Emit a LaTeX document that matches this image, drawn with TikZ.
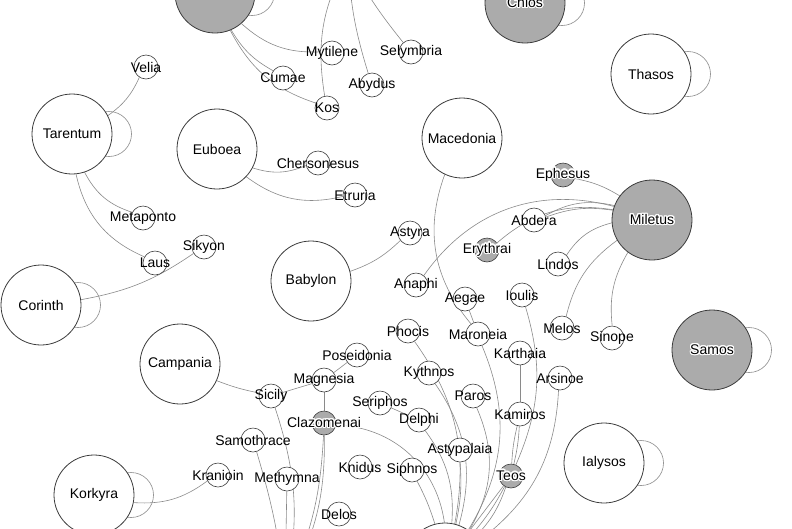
\documentclass[tikz,border=0pt]{standalone}
\usepackage{fontspec}
\setmainfont{Liberation Sans}
\usepackage{contour}
\contourlength{1.2pt}
\usetikzlibrary{backgrounds,calc}
\definecolor{NodeGray}{HTML}{ABABAB}
\definecolor{EdgeGray}{HTML}{8A8A8A}
\definecolor{RimGray}{HTML}{3C3C3C}
\newcommand{\halo}[1]{\contour{white}{#1}}
\tikzset{
  city/.style  = {circle, draw=RimGray, line width=0.8pt, fill=white,
                  minimum size=80pt, inner sep=0pt, font=\fontsize{14}{16}\selectfont},
  cityg/.style = {city, fill=NodeGray},
  town/.style  = {circle, draw=RimGray, line width=0.6pt, fill=white,
                  minimum size=24pt, inner sep=0pt},
  towng/.style = {town, fill=NodeGray},
  lbl/.style   = {font=\fontsize{14}{16}\selectfont, inner sep=0pt},
  link/.style  = {draw=EdgeGray, line width=0.6pt},
}

\begin{document}
\begin{tikzpicture}[x=1pt, y=-1pt]
  \useasboundingbox (0,0) rectangle (792,528);
  \clip (0,0) rectangle (792,528);
  % large nodes
  \node[cityg] (tg) at (215,-7) {};
  \node[cityg] (chios) at (525,3) {\halo{Chios}};
  \node[city] (thasos) at (651,74) {Thasos};
  \node[city] (macedonia) at (462,138) {Macedonia};
  \node[cityg] (miletus) at (652,220) {\halo{Miletus}};
  \node[cityg] (samos) at (712,350) {\halo{Samos}};
  \node[city] (tarentum) at (72,134) {Tarentum};
  \node[city] (euboea) at (217,149) {Euboea};
  \node[city] (corinth) at (41,305) {Corinth};
  \node[city] (babylon) at (311,281) {Babylon};
  \node[city] (campania) at (180,364) {Campania};
  \node[city] (korkyra) at (94,495) {Korkyra};
  \node[city] (ialysos) at (604,463) {Ialysos};
  \node[city] (hub) at (445,563) {};
  \coordinate (upper) at (348,-40);
  \coordinate (lower) at (285,590);
  % small nodes
  \node[town, label={[lbl]center:Velia}] (velia) at (146,67) {};
  \node[town, label={[lbl]center:Metaponto}] (metaponto) at (143,218) {};
  \node[town, label={[lbl]center:Laus}] (laus) at (155,263) {};
  \node[town, label={[lbl]center:Sikyon}] (sikyon) at (204,247) {};
  \node[town, label={[lbl]center:Mytilene}] (mytilene) at (332,53) {};
  \node[town, label={[lbl]center:Selymbria}] (selymbria) at (411,52) {};
  \node[town, label={[lbl]center:Cumae}] (cumae) at (283,78) {};
  \node[town, label={[lbl]center:Abydus}] (abydus) at (372,85) {};
  \node[town, label={[lbl]center:Kos}] (kos) at (327,108) {};
  \node[town, label={[lbl]center:Chersonesus}] (chersonesus) at (318,163) {};
  \node[town, label={[lbl]center:Etruria}] (etruria) at (355,195) {};
  \node[town, label={[lbl]center:Astyra}] (astyra) at (410,233) {};
  \node[town, label={[lbl]center:Anaphi}] (anaphi) at (416,285) {};
  \node[towng, label={[lbl]center:\halo{Ephesus}}] (ephesus) at (563,175) {};
  \node[town, label={[lbl]center:Abdera}] (abdera) at (534,220) {};
  \node[towng, label={[lbl]center:\halo{Erythrai}}] (erythrai) at (487,250) {};
  \node[town, label={[lbl]center:Lindos}] (lindos) at (558,264) {};
  \node[town, label={[lbl]center:Aegae}] (aegae) at (465,299) {};
  \node[town, label={[lbl]center:Ioulis}] (ioulis) at (522,295) {};
  \node[town, label={[lbl]center:Melos}] (melos) at (562,328) {};
  \node[town, label={[lbl]center:Sinope}] (sinope) at (612,338) {};
  \node[town, label={[lbl]center:Maroneia}] (maroneia) at (478,334) {};
  \node[town, label={[lbl]center:Karthaia}] (karthaia) at (520,353) {};
  \node[town, label={[lbl]center:Phocis}] (phocis) at (408,331) {};
  \node[town, label={[lbl]center:Kythnos}] (kythnos) at (429,373) {};
  \node[town, label={[lbl]center:Paros}] (paros) at (473,396) {};
  \node[town, label={[lbl]center:Arsinoe}] (arsinoe) at (560,378) {};
  \node[town, label={[lbl]center:Kamiros}] (kamiros) at (520,414) {};
  \node[town, label={[lbl]center:Delphi}] (delphi) at (419,420) {};
  \node[town, label={[lbl]center:Astypalaia}] (astypalaia) at (460,450) {};
  \node[town, label={[lbl]center:Siphnos}] (siphnos) at (412,470) {};
  \node[towng, label={[lbl]center:\halo{Teos}}] (teos) at (511,476) {};
  \node[town, label={[lbl]center:Poseidonia}] (poseidonia) at (357,355) {};
  \node[town, label={[lbl]center:Magnesia}] (magnesia) at (324,380) {};
  \node[town, label={[lbl]center:Sicily}] (sicily) at (271,396) {};
  \node[town, label={[lbl]center:Seriphos}] (seriphos) at (380,403) {};
  \node[towng, label={[lbl]center:\halo{Clazomenai}}] (clazomenai) at (324,423) {};
  \node[town, label={[lbl]center:Samothrace}] (samothrace) at (253,440) {};
  \node[town, label={[lbl]center:Knidus}] (knidus) at (360,467) {};
  \node[town, label={[lbl]center:Kranioin}] (kranioin) at (218,475) {};
  \node[town, label={[lbl]center:Methymna}] (methymna) at (287,479) {};
  \node[town, label={[lbl]center:Delos}] (delos) at (339,514) {};

  \begin{pgfonlayer}{background}
    \clip (0,0) rectangle (792,528);
    % self loops
    \foreach \n in {tg,chios,thasos,samos,tarentum,corinth,korkyra,ialysos}
      \draw[link] ($(\n)+(37,0)$) circle[radius=22.5pt];
    % links
    \draw[link] (tg) to[bend right=22] (mytilene);
    \draw[link] (tg) to[bend right=15] (cumae);
    \draw[link] (tg) to[bend right=22] (kos);
    \draw[link] (upper) to[bend right=19] (kos);
    \draw[link] (upper) to[bend right=7] (abydus);
    \draw[link] (upper) to[bend right=5] (selymbria);
    \draw[link] (tarentum) to[bend right=15] (velia);
    \draw[link] (tarentum) to[bend right=22] (metaponto);
    \draw[link] (tarentum) to[bend right=27] (laus);
    \draw[link] (corinth) to[bend right=12] (sikyon);
    \draw[link] (euboea) to[bend right=20] (chersonesus);
    \draw[link] (euboea) to[bend right=25] (etruria);
    \draw[link] (babylon) to[bend right=12] (astyra);
    \draw[link] (campania) to[bend right=5] (sicily);
    \draw[link] (sicily) -- (magnesia);
    \draw[link] (magnesia) -- (poseidonia);
    \draw[link] (magnesia) -- (clazomenai);
    \draw[link] (seriphos) -- (delphi);
    \draw[link] (korkyra) to[bend right=20] (kranioin);
    \draw[link] (samothrace) to[bend left=5] (lower);
    \draw[link] (sicily) to[bend left=15] (lower);
    \draw[link] (methymna) -- (lower);
    \draw[link] (clazomenai) to[bend left=15] (lower);
    \draw[link] (clazomenai) to[bend left=11] (lower);
    \draw[link] (ephesus) to[bend left=10] (miletus);
    \draw[link] (miletus) to[bend right=21] (abdera);
    \draw[link] (miletus) to[bend right=14] (abdera);
    \draw[link] (miletus) to[bend right=35] (anaphi);
    \draw[link] (miletus) to[bend right=25] (erythrai);
    \draw[link] (miletus) to[bend right=21] (lindos);
    \draw[link] (miletus) to[bend right=20] (melos);
    \draw[link] (miletus) to[bend right=18] (sinope);
    \draw[link] (macedonia) to[bend right=30] (maroneia);
    \draw[link] (aegae) -- (maroneia);
    \draw[link] (maroneia) to[bend left=27] (hub);
    \draw[link] (phocis) to[bend left=23] (hub);
    \draw[link] (kythnos) to[bend left=25] (hub);
    \draw[link] (astypalaia) to[bend left=8] (hub);
    \draw[link] (delphi) to[bend left=20] (hub);
    \draw[link] (siphnos) to[bend left=5] (hub);
    \draw[link] (clazomenai) to[bend left=40] (hub);
    \draw[link] (paros) to[bend left=27] (hub);
    \draw[link] (karthaia) -- (kamiros);
    \draw[link] (kamiros) to[bend left=5] (teos);
    \draw[link] (kamiros) to[bend right=5] (teos);
    \draw[link] (ioulis) to[bend left=20] (teos);
    \draw[link] (teos) -- (hub);
    \draw[link] (teos) to[bend left=6] (hub);
    \draw[link] (teos) to[bend left=12] (hub);
    \draw[link] (arsinoe) to[bend left=25] (hub);
  \end{pgfonlayer}
\end{tikzpicture}
\end{document}
